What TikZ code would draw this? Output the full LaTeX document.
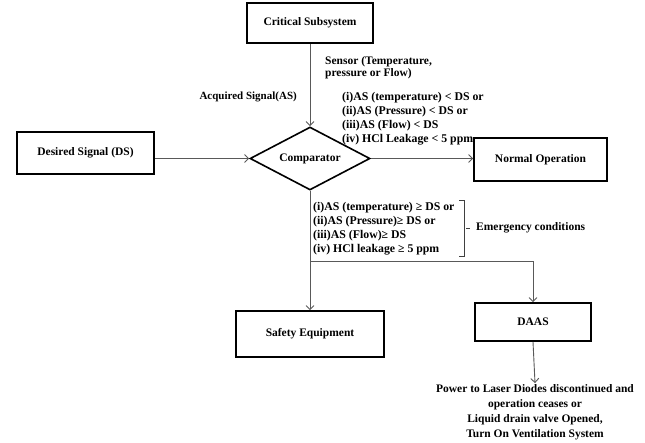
\documentclass[tikz,border=0pt]{standalone}
\usepackage{fontspec}
\setmainfont{Liberation Serif}
\usetikzlibrary{shapes.geometric,arrows.meta}
\begin{document}
\begin{tikzpicture}[x=1pt,y=-1pt,
  box/.style={draw=black,line width=1.6pt,inner sep=2pt,font=\fontsize{11.5}{13}\selectfont\bfseries},
  dia/.style={diamond,draw=black,line width=1.6pt,inner sep=0pt,aspect=1.9,minimum width=120pt,minimum height=63pt,font=\fontsize{11.5}{13}\selectfont\bfseries},
  lbl/.style={font=\fontsize{11.5}{12.3}\selectfont\bfseries,align=left,inner sep=0pt},
  cond/.style={font=\fontsize{11.8}{14}\selectfont\bfseries,align=left,inner sep=0pt},
  outtext/.style={font=\fontsize{11.5}{15}\selectfont\bfseries,align=center,inner sep=1pt},
  conn/.style={draw=black!65,line width=0.9pt},
  arr/.style={conn,-{Straight Barb[length=4pt,width=8pt]}},
  brk/.style={draw=black!75,line width=0.8pt}]
\fill[white] (0,0) rectangle (645,442);
\useasboundingbox (0,0) rectangle (645,442);

\node[box,minimum width=126pt,minimum height=40pt] (cs) at (310,23) {Critical Subsystem};
\node[dia] (cmp) at (310,158.5) {Comparator};
\node[box,minimum width=137pt,minimum height=42pt] (ds) at (85.5,153) {Desired Signal (DS)};
\node[box,minimum width=133pt,minimum height=43pt] (no) at (540.5,159.5) {Normal Operation};
\node[box,minimum width=148pt,minimum height=46pt] (se) at (310,334) {Safety Equipment};
\node[box,minimum width=116pt,minimum height=38pt] (daas) at (533,322) {DAAS};
\node[outtext] (out) at (535,412) {Power to Laser Diodes discontinued and\\operation ceases or\\Liquid drain valve Opened,\\Turn On Ventilation System};

\node[lbl,anchor=west] (sensor) at (325,68) {Sensor (Temperature,\\pressure or Flow)};
\node[lbl,font=\fontsize{11}{12}\selectfont\bfseries,anchor=east] (acq) at (297,97) {Acquired Signal(AS)};
\node[cond,anchor=west] (normal) at (342,119) {(i)AS (temperature) < DS or\\(ii)AS (Pressure) < DS or\\(iii)AS (Flow) < DS\\(iv) HCl Leakage < 5 ppm};
\node[cond,anchor=west] (emer) at (313,228.5) {(i)AS (temperature) ≥ DS or\\(ii)AS (Pressure)≥ DS or\\(iii)AS (Flow)≥ DS\\(iv) HCl leakage ≥ 5 ppm};
\node[lbl,anchor=west] (emtext) at (476,228) {Emergency conditions};

\draw[brk] (459,200) -- (464,200) -- (464,256) -- (459,256);
\draw[brk] (466,228) -- (470,228);

\draw[arr] (cs.south) -- (cmp.north);
\draw[arr] (ds.east |- cmp.west) -- (cmp.west);
\draw[arr] (cmp.east) -- (cmp.east -| no.west);
\draw[arr] (cmp.south) -- (se.north);
\coordinate (j) at (310,261);
\draw[arr] (j) -- (j -| daas.north) -- (daas.north);
\draw[arr] (daas.south) -- (out.north);
\end{tikzpicture}
\end{document}
